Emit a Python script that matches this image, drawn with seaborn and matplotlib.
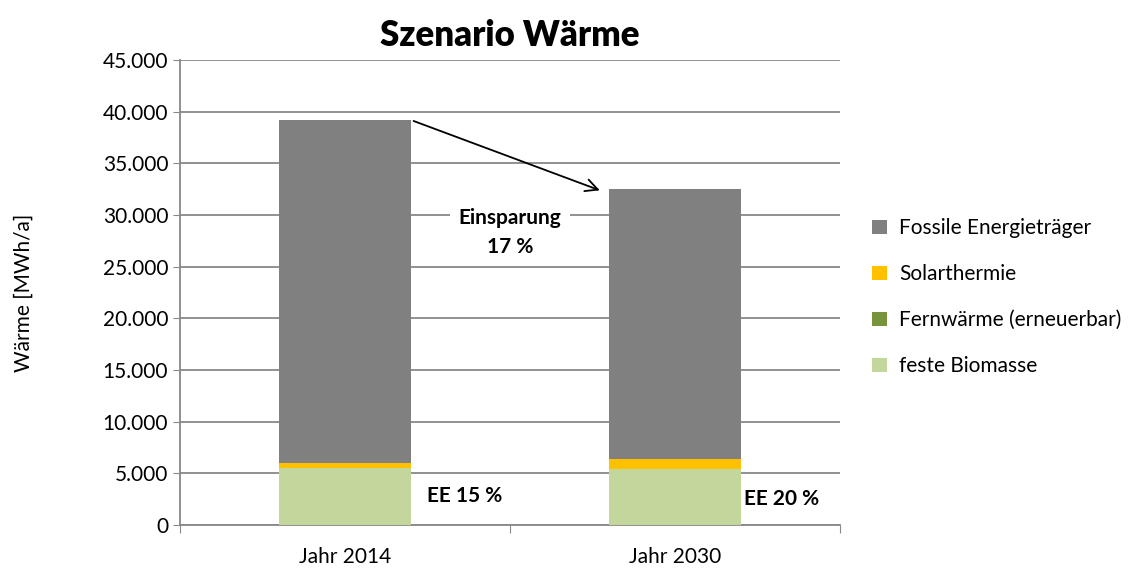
import seaborn as sns
import matplotlib.pyplot as plt
import pandas as pd

years = ["Jahr 2014", "Jahr 2030"]
biomasse = [5500, 5450]
fernwaerme = [0, 0]
solar = [550, 950]
fossil = [33150, 26100]

layers = ["feste Biomasse", "Fernwärme (erneuerbar)", "Solarthermie", "Fossile Energieträger"]
layer_values = [biomasse, fernwaerme, solar, fossil]
layer_colors = ["#c3d69b", "#77933c", "#ffc000", "#808080"]

ee_labels = ["EE 15 %", "EE 20 %"]

sns.set_style("white")
plt.rcParams['font.family'] = ['Lato', 'DejaVu Sans']
plt.rcParams['text.color'] = 'black'
plt.rcParams['axes.labelcolor'] = 'black'
plt.rcParams['xtick.color'] = 'black'
plt.rcParams['ytick.color'] = 'black'

fig, ax = plt.subplots(figsize=(11.39, 5.72), dpi=100)
fig.subplots_adjust(left=0.158, right=0.7375, top=0.895, bottom=0.082)

bottom = [0, 0]
for name, vals, col in zip(layers, layer_values, layer_colors):
    df = pd.DataFrame({"Jahr": years, "Wert": vals})
    sns.barplot(data=df, x="Jahr", y="Wert", color=col, width=0.4, saturation=1,
                bottom=bottom, label=name, ax=ax, zorder=3, linewidth=0)
    bottom = [b + v for b, v in zip(bottom, vals)]

ax.set_ylim(0, 45000)
ax.set_xlim(-0.5, 1.5)
ax.set_yticks(range(0, 45001, 5000))
ax.set_yticklabels([f"{v:,}".replace(",", ".") for v in range(0, 45001, 5000)], fontsize=15)
ax.yaxis.grid(True, color="#888888", linewidth=1.3, zorder=0)
ax.set_axisbelow(True)
ax.set_xticks([-0.5, 0.5, 1.5], minor=False)
ax.set_xticklabels(["", "", ""])
ax.set_xticks([0, 1], minor=True)
ax.set_xticklabels(years, minor=True, fontsize=15)
ax.tick_params(axis="x", which="major", length=6, color="#888888", direction="out", bottom=True)
ax.tick_params(axis="x", which="minor", length=0, pad=16)
ax.tick_params(axis="y", length=5, color="#888888", direction="out", left=True)
for s in ["top", "right"]:
    ax.spines[s].set_visible(False)
for s in ["left", "bottom"]:
    ax.spines[s].set_color("#888888")
    ax.spines[s].set_linewidth(1.3)

ax.set_xlabel("")
ax.set_ylabel("Wärme [MWh/a]", fontsize=15)
ax.yaxis.set_label_coords(-0.222, 0.5)
ax.set_title("Szenario Wärme", fontsize=25, fontweight="heavy", pad=10)

# Einsparung arrow and label
tops = [sum(v[i] for v in layer_values) for i in range(2)]
ax.annotate("", xy=(0.78, tops[1] - 200), xytext=(0.2, tops[0]),
            arrowprops=dict(arrowstyle="->", color="black", lw=1.3, mutation_scale=22))
ax.text(0.5, 28300, "Einsparung\n17 %", ha="center", va="center", fontsize=15,
        fontweight="bold", linespacing=1.6,
        bbox=dict(facecolor="white", edgecolor="none", pad=6), zorder=4)

ax.text(0.25, 2800, ee_labels[0], ha="left", va="center", fontsize=15, fontweight="bold")
ax.text(1.21, 2500, ee_labels[1], ha="left", va="center", fontsize=15, fontweight="bold")

handles, labels = ax.get_legend_handles_labels()
ax.legend(handles[::-1], labels[::-1], loc="center left", bbox_to_anchor=(1.02, 0.49),
          frameon=False, fontsize=15, handlelength=0.7, handleheight=0.7,
          labelspacing=1.25, handletextpad=0.6)

fig.savefig("out.png", dpi=100)
